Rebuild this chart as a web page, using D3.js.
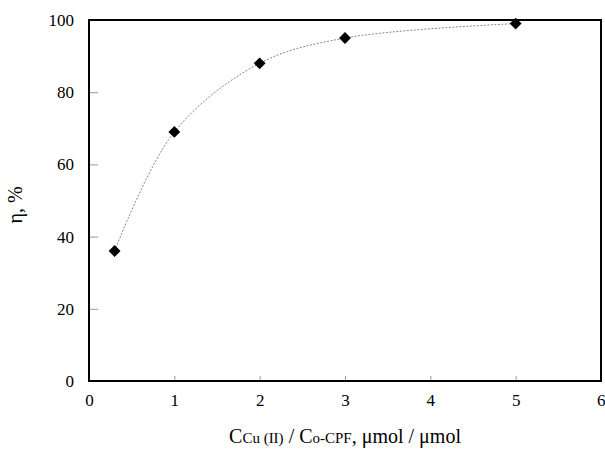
<!DOCTYPE html>
<html><head><meta charset="utf-8">
<script src="https://cdn.jsdelivr.net/npm/d3@7"></script>
<style>body{margin:0;background:#fff}svg{display:block}text{font-family:"Liberation Serif","Times New Roman",serif}</style>
</head><body>
<svg id="c" width="605" height="450"></svg>
<script>
const xValues = [0.3, 1, 2, 3, 5];
const etaValues = [36, 69, 88, 95, 99];
const xTicks = [0, 1, 2, 3, 4, 5, 6];
const yTicks = [0, 20, 40, 60, 80, 100];

const svg = d3.select("#c");
const L = 89, R = 601, T = 20, B = 381;
const x = d3.scaleLinear().domain([0, 6]).range([L, R]);
const y = d3.scaleLinear().domain([0, 100]).range([B, T]);

const gx = svg.append("g").attr("transform", `translate(0,${B})`)
  .call(d3.axisBottom(x).tickValues(xTicks).tickFormat(d3.format("d")).tickSizeInner(-5).tickSizeOuter(0).tickPadding(13));
const gy = svg.append("g").attr("transform", `translate(${L},0)`)
  .call(d3.axisLeft(y).tickValues(yTicks).tickFormat(d3.format("d")).tickSizeInner(-9).tickSizeOuter(0).tickPadding(15));
[gx, gy].forEach(g => {
  g.select(".domain").remove();
  g.selectAll(".tick line").attr("stroke", "#999").attr("stroke-width", 1);
  g.selectAll(".tick text").attr("font-size", 17).attr("fill", "#000")
    .style("font-family", '"Liberation Serif", serif');
});
gx.selectAll(".tick").filter(d => d === 6).select("text").attr("text-anchor", "end").attr("dx", "4");

svg.append("rect").attr("x", x(0)).attr("y", y(100))
  .attr("width", x(6) - x(0)).attr("height", y(0) - y(100))
  .attr("fill", "none").attr("stroke", "#000").attr("stroke-width", 2);

const pts = xValues.map((v, i) => [v, etaValues[i]]);
const line = d3.line().x(d => x(d[0])).y(d => y(d[1])).curve(d3.curveCatmullRom.alpha(0.5));
svg.append("path").attr("d", line(pts)).attr("fill", "none")
  .attr("stroke", "#888").attr("stroke-width", 1).attr("stroke-dasharray", "2,1.5");

svg.selectAll(".m").data(pts).enter().append("path")
  .attr("transform", d => `translate(${x(d[0])},${y(d[1])})`)
  .attr("d", d3.symbol().type(d3.symbolDiamond2).size(90))
  .attr("fill", "#000");

svg.append("text").attr("transform", "translate(22,205) rotate(-90)")
  .attr("text-anchor", "middle").attr("font-size", 20).text("η, %");

const xl = svg.append("text").attr("x", 345).attr("y", 443)
  .attr("text-anchor", "middle").attr("font-size", 20);
xl.append("tspan").text("C");
xl.append("tspan").attr("font-size", 15).text("Cu (II)");
xl.append("tspan").text(" / C");
xl.append("tspan").attr("font-size", 15).text("o-CPF");
xl.append("tspan").text(", μmol / μmol");
</script>
</body></html>
